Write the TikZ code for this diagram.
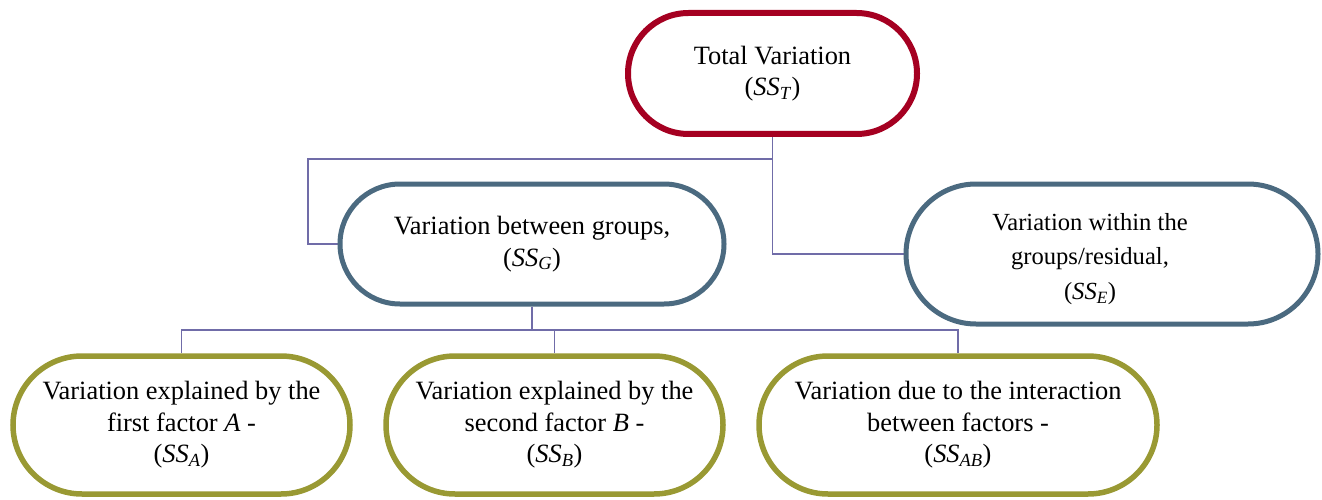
\documentclass[tikz,border=0pt]{standalone}
\usepackage{fontspec}
\setmainfont{Liberation Serif}
\usetikzlibrary{backgrounds}
\definecolor{crim}{RGB}{165,0,33}
\definecolor{slate}{RGB}{75,106,128}
\definecolor{olive}{RGB}{153,153,51}
\definecolor{conn}{RGB}{112,108,168}
\newcommand\SSof[1]{(\textit{SS}\textsubscript{\textit{#1}})}
\begin{document}
\begin{tikzpicture}[x=1pt,y=-1pt,
  pill/.style={draw, rectangle, inner sep=0pt, align=center, fill=white,
    font=\fontsize{26.4}{31.5}\selectfont},
  toppill/.style={pill, draw=crim, line width=6pt},
  midpill/.style={pill, draw=slate, line width=5pt},
  lowpill/.style={pill, draw=olive, line width=5.5pt, minimum height=138pt, rounded corners=69pt},
  link/.style={draw=conn, line width=1.5pt}]
\useasboundingbox (0,0) rectangle (1322,500);
\node[toppill, minimum width=289pt, minimum height=121pt, rounded corners=60.5pt] (T) at (772.5,73.5)
  {Total Variation\\\SSof{T}};
\node[midpill, minimum width=384pt, minimum height=120pt, rounded corners=60pt] (G) at (532,244)
  {Variation between groups,\\\SSof{G}};
\node[midpill, minimum width=412pt, minimum height=140pt, rounded corners=70pt] (E) at (1112,254) {};
\node[align=center, inner sep=0pt, font=\fontsize{24.6}{34.5}\selectfont] (Etxt) at (1090,259)
  {Variation within the\\groups/residual,\\\SSof{E}};
\node[lowpill, minimum width=337pt] (A) at (181.5,425)
  {Variation explained by the\\first factor \textit{A} -\\\SSof{A}};
\node[lowpill, minimum width=337pt] (B) at (554.5,425)
  {Variation explained by the\\second factor \textit{B} -\\\SSof{B}};
\node[lowpill, minimum width=398pt] (C) at (958,425)
  {Variation due to the interaction\\between factors -\\\SSof{AB}};
\coordinate (j1) at (308,159);
\coordinate (j2) at (532,330);
\begin{scope}[on background layer]
\draw[link] (T.south) |- (j1) |- (G.west);
\draw[link] (T.south) |- (E.west);
\draw[link] (G.south) -- (j2) -| (A.north);
\draw[link] (j2) -| (B.north);
\draw[link] (j2) -| (C.north);
\end{scope}
\end{tikzpicture}
\end{document}
